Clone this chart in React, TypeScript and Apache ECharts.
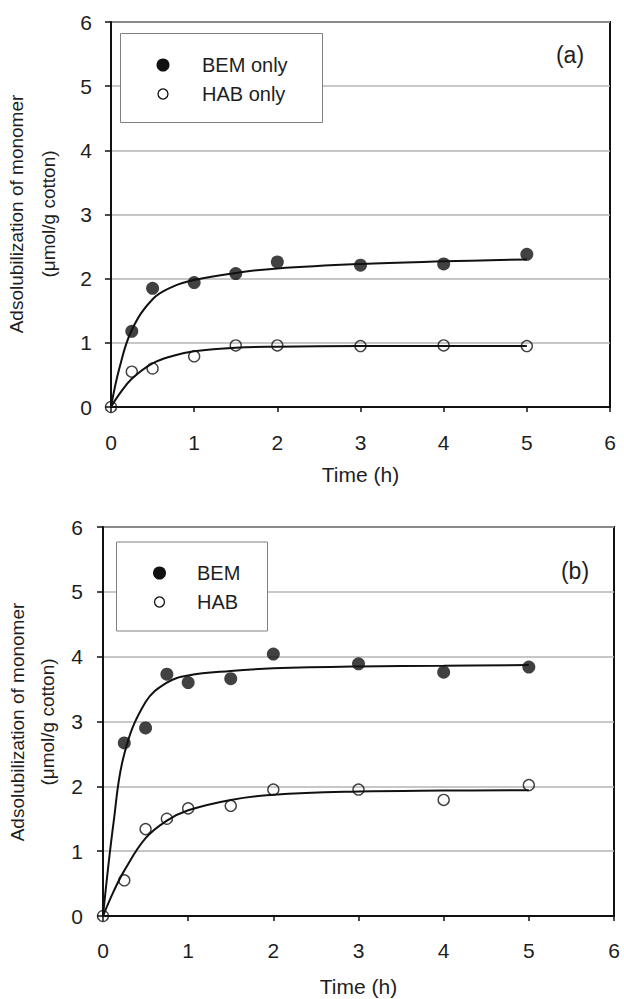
import React, { useEffect, useRef } from 'react';
import * as echarts from 'echarts';

// ---------- data: panel (a) ----------
const timesA = [0.25, 0.5, 1, 1.5, 2, 3, 4, 5];
const bemOnlyA = [1.18, 1.85, 1.94, 2.08, 2.26, 2.21, 2.23, 2.38];
const habTimesA = [0, 0.25, 0.5, 1, 1.5, 2, 3, 4, 5];
const habOnlyA = [0, 0.55, 0.6, 0.79, 0.96, 0.96, 0.95, 0.96, 0.95];
const fitTimesA = [0, 0.1, 0.25, 0.5, 0.75, 1, 1.5, 2, 3, 4, 5];
const bemFitA = [0, 0.6, 1.2, 1.68, 1.88, 1.98, 2.09, 2.16, 2.23, 2.27, 2.3];
const habFitA = [0, 0.2, 0.44, 0.68, 0.8, 0.87, 0.925, 0.94, 0.95, 0.95, 0.95];

// ---------- data: panel (b) ----------
const timesB = [0.25, 0.5, 0.75, 1, 1.5, 2, 3, 4, 5];
const bemB = [2.67, 2.9, 3.73, 3.6, 3.66, 4.04, 3.89, 3.76, 3.84];
const habTimesB = [0, 0.25, 0.5, 0.75, 1, 1.5, 2, 3, 4, 5];
const habB = [0, 0.55, 1.34, 1.5, 1.66, 1.7, 1.95, 1.95, 1.79, 2.02];
const fitTimesB = [0, 0.125, 0.25, 0.5, 0.75, 1, 1.5, 2, 3, 4, 5];
const bemFitB = [0, 1.45, 2.5, 3.3, 3.6, 3.71, 3.78, 3.82, 3.85, 3.86, 3.87];
const habFitB = [0, 0.38, 0.7, 1.2, 1.47, 1.63, 1.79, 1.87, 1.92, 1.935, 1.94];

// ---------- axis / labels ----------
const axisMin = 0;
const axisMax = 6;
const axisStep = 1;
const xTitle = 'Time (h)';
const yTitleLine1 = 'Adsolubilization of monomer';
const yTitleLine2 = '(\u03bcmol/g cotton)';
const legendA = ['BEM only', 'HAB only'];
const legendB = ['BEM', 'HAB'];
const panelTags = ['(a)', '(b)'];

const FONT = '"Liberation Sans", Arial, Helvetica, sans-serif';
const INK = '#111111';
const TXT = '#1e1e1e';

const zip = (xs: number[], ys: number[]) => xs.map((x, i) => [x, ys[i]]);

function xAxisFor(gridIndex: number, margin: number, nameGap: number) {
  return {
    type: 'value',
    gridIndex,
    min: axisMin,
    max: axisMax,
    interval: axisStep,
    axisLine: { show: true, onZero: false, lineStyle: { color: INK, width: 2 } },
    axisTick: { show: true, inside: false, length: 5, lineStyle: { color: INK, width: 1.5 } },
    axisLabel: { fontSize: 21, color: TXT, margin, fontFamily: FONT },
    splitLine: { show: false },
    name: xTitle,
    nameLocation: 'middle',
    nameGap,
    nameTextStyle: { fontSize: 21, color: TXT, fontFamily: FONT },
  };
}

function yAxisFor(gridIndex: number, margin: number) {
  return {
    type: 'value',
    gridIndex,
    min: axisMin,
    max: axisMax,
    interval: axisStep,
    axisLine: { show: true, onZero: false, lineStyle: { color: INK, width: 2 } },
    axisTick: { show: true, inside: false, length: 6, lineStyle: { color: INK, width: 1.5 } },
    axisLabel: { fontSize: 21, color: TXT, margin, fontFamily: FONT },
    splitLine: { show: true, lineStyle: { color: '#b5b5b5', width: 1.5 } },
  };
}

function fitLine(name: string, idx: number, xs: number[], ys: number[]) {
  return {
    type: 'line',
    name,
    xAxisIndex: idx,
    yAxisIndex: idx,
    data: zip(xs, ys),
    symbol: 'none',
    showSymbol: false,
    smooth: 0.4,
    lineStyle: { color: INK, width: 2 },
    silent: true,
    z: 2,
  };
}

function filledDots(name: string, idx: number, xs: number[], ys: number[]) {
  return {
    type: 'scatter',
    name,
    xAxisIndex: idx,
    yAxisIndex: idx,
    data: zip(xs, ys),
    symbol: 'circle',
    symbolSize: 13,
    clip: false,
    itemStyle: { color: INK },
    z: 3,
  };
}

function openDots(name: string, idx: number, xs: number[], ys: number[]) {
  return {
    type: 'scatter',
    name,
    xAxisIndex: idx,
    yAxisIndex: idx,
    data: zip(xs, ys),
    symbol: 'circle',
    symbolSize: 11,
    clip: false,
    itemStyle: { color: 'rgba(255,255,255,0)', borderColor: INK, borderWidth: 1.4 },
    z: 4,
  };
}

const centered = {
  align: 'center',
  verticalAlign: 'middle',
  textAlign: 'center',
  textVerticalAlign: 'middle',
};

function yTitle(cx1: number, cx2: number, cy: number) {
  const base = { fontSize: 19, fill: TXT, fontFamily: FONT, ...centered };
  return [
    { type: 'text', x: cx1, y: cy, rotation: Math.PI / 2, style: { ...base, text: yTitleLine1 } },
    { type: 'text', x: cx2, y: cy, rotation: Math.PI / 2, style: { ...base, text: yTitleLine2 } },
  ];
}

function tag(text: string, cx: number, cy: number) {
  return {
    type: 'text',
    x: cx,
    y: cy,
    style: { text, fontSize: 23, fill: TXT, fontFamily: FONT, ...centered },
  };
}

// legend box drawn with graphic elements (box, marker, label)
function legendBox(
  names: string[],
  box: { x: number; y: number; w: number; h: number },
  markerX: number,
  textX: number,
  rowY: number[],
) {
  const leftText = {
    fontSize: 20,
    fill: TXT,
    fontFamily: FONT,
    align: 'left',
    verticalAlign: 'middle',
    textAlign: 'left',
    textVerticalAlign: 'middle',
  };
  return [
    {
      type: 'rect',
      shape: { x: box.x, y: box.y, width: box.w, height: box.h },
      style: { fill: '#ffffff', stroke: '#808080', lineWidth: 1 },
      z: 10,
    },
    {
      type: 'circle',
      shape: { cx: markerX, cy: rowY[0], r: 6.5 },
      style: { fill: INK },
      z: 11,
    },
    {
      type: 'circle',
      shape: { cx: markerX, cy: rowY[1], r: 5 },
      style: { fill: 'rgba(255,255,255,0)', stroke: INK, lineWidth: 1.3 },
      z: 11,
    },
    { type: 'text', x: textX, y: rowY[0], style: { ...leftText, text: names[0] }, z: 11 },
    { type: 'text', x: textX, y: rowY[1], style: { ...leftText, text: names[1] }, z: 11 },
  ];
}

export default function App() {
  const ref = useRef<HTMLDivElement>(null);

  useEffect(() => {
    if (!ref.current) return;
    const chart = echarts.init(ref.current, null, { renderer: 'svg' });
    const option = {
      animation: false,
      backgroundColor: '#ffffff',
      grid: [
        { left: 111, top: 22, width: 499, height: 385, show: true, borderColor: INK, borderWidth: 2, backgroundColor: 'rgba(0,0,0,0)' },
        { left: 103, top: 527, width: 511, height: 389, show: true, borderColor: INK, borderWidth: 2, backgroundColor: 'rgba(0,0,0,0)' },
      ],
      xAxis: [xAxisFor(0, 25, 57), xAxisFor(1, 24, 60)],
      yAxis: [yAxisFor(0, 19), yAxisFor(1, 20)],
      graphic: [
        ...yTitle(16, 48, 214),
        ...yTitle(17, 47, 722),
        tag(panelTags[0], 570, 55),
        tag(panelTags[1], 575, 571),
        ...legendBox(legendA, { x: 120.5, y: 33.5, w: 202, h: 89 }, 163, 202, [65, 94]),
        ...legendBox(legendB, { x: 116.5, y: 542, w: 151, h: 89 }, 159.5, 197, [573, 602]),
      ],
      series: [
        fitLine('BEM only fit', 0, fitTimesA, bemFitA),
        fitLine('HAB only fit', 0, fitTimesA, habFitA),
        filledDots(legendA[0], 0, timesA, bemOnlyA),
        openDots(legendA[1], 0, habTimesA, habOnlyA),
        fitLine('BEM fit', 1, fitTimesB, bemFitB),
        fitLine('HAB fit', 1, fitTimesB, habFitB),
        filledDots(legendB[0], 1, timesB, bemB),
        openDots(legendB[1], 1, habTimesB, habB),
      ],
    };
    chart.setOption(option as any);
    return () => chart.dispose();
  }, []);

  return (
    <div
      ref={ref}
      style={{ position: 'fixed', left: 0, top: 0, width: 624, height: 999, background: '#fff' }}
    />
  );
}
